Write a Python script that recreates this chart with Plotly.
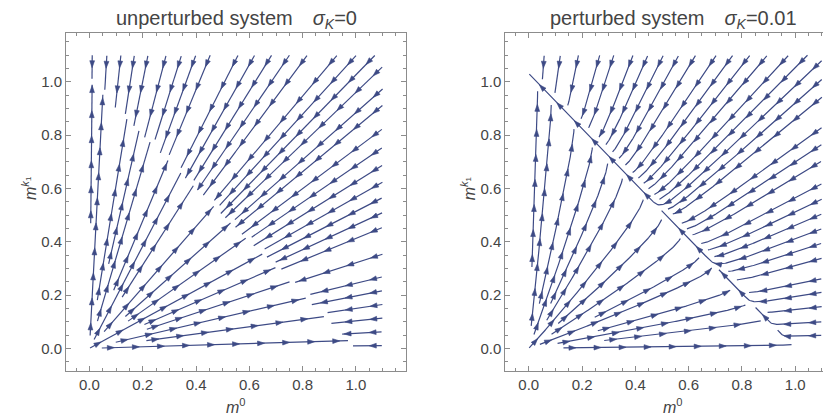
import numpy as np
import plotly.graph_objects as go

# ---------------- data ----------------
m0_range = [0.0, 1.1]          # streamline domain, horizontal (m^0)
mk1_range = [0.0, 1.1]         # streamline domain, vertical (m^k1)
K_unperturbed = [1.0, 1.0]     # carrying capacities (m^0, m^k1), sigma_K = 0
K_perturbed = [1.0, 1.03]      # carrying capacities (m^0, m^k1), sigma_K = 0.01
panel_names = ["unperturbed system", "perturbed system"]
sigma_values = ["0", "0.01"]
tick_values = [0.0, 0.2, 0.4, 0.6, 0.8, 1.0]
tick_labels = ["0.0", "0.2", "0.4", "0.6", "0.8", "1.0"]
minor_tick_values = [-0.05, 0.05, 0.1, 0.15, 0.25, 0.3, 0.35, 0.45, 0.5, 0.55,
                     0.65, 0.7, 0.75, 0.85, 0.9, 0.95, 1.05, 1.1, 1.15]
# first streamlines of each panel (the rest are placed evenly around them)
first_seeds_unperturbed = [(0.55, 0.30)]
first_seeds_perturbed = [(0.515, 0.545), (0.74, 0.32), (0.865, 0.175), (0.95, 0.09)]


def velocity(x, y, K):
    s = x + y
    return x * (K[0] - s), y * (K[1] - s)


# ---------------- evenly spaced streamlines ----------------
def build_streamlines(K, seeds, dsep=0.05, dtest=0.02, h=0.004, minlen=0.012):
    x0, x1 = m0_range
    y0, y1 = mk1_range
    cell = dtest
    grid = {}

    def min_dist(p, radius):
        r = int(np.ceil(radius / cell))
        i = int(p[0] // cell)
        j = int(p[1] // cell)
        best = 1e9
        for di in range(-r, r + 1):
            for dj in range(-r, r + 1):
                lst = grid.get((i + di, j + dj))
                if not lst:
                    continue
                for (qx, qy) in lst:
                    d = (qx - p[0]) ** 2 + (qy - p[1]) ** 2
                    if d < best:
                        best = d
        return best ** 0.5

    def add(pts):
        for k, (px, py) in enumerate(pts):
            if k % 2 == 0 or k == len(pts) - 1:
                grid.setdefault((int(px // cell), int(py // cell)), []).append((px, py))

    def direction(p, sgn):
        u, v = velocity(p[0], p[1], K)
        n = (u * u + v * v) ** 0.5
        if n < 1e-10:
            return None
        return (sgn * u / n, sgn * v / n)

    def inside(q):
        return x0 <= q[0] <= x1 and y0 <= q[1] <= y1

    def trace(seed, sgn):
        pts = []
        p = seed
        dprev = direction(p, sgn)
        if dprev is None:
            return pts
        for _ in range(1500):
            d1 = direction(p, sgn)
            if d1 is None:
                break
            mid = (p[0] + 0.5 * h * d1[0], p[1] + 0.5 * h * d1[1])
            d2 = direction(mid, sgn)
            if d2 is None:
                break
            if d2[0] * d1[0] + d2[1] * d1[1] < 0.2:
                break
            if d2[0] * dprev[0] + d2[1] * dprev[1] < 0.2:
                break
            q = (p[0] + h * d2[0], p[1] + h * d2[1])
            if not inside(q):
                break
            if min_dist(q, dtest) < dtest:
                break
            pts.append(q)
            p = q
            dprev = d2
        return pts

    lines = []

    def try_line(seed):
        if not inside(seed):
            return
        if min_dist(seed, dsep) < dsep:
            return
        b = trace(seed, -1)
        f = trace(seed, 1)
        pts = b[::-1] + [seed] + f
        P = np.array(pts)
        if len(P) < 2:
            return
        L = np.sum(np.hypot(np.diff(P[:, 0]), np.diff(P[:, 1])))
        if L < minlen:
            return
        add(pts)
        lines.append(P)

    idx = [0]
    every = max(1, int(0.5 * dsep / h))

    def expand():
        while idx[0] < len(lines):
            P = lines[idx[0]]
            idx[0] += 1
            for k in range(0, len(P), every):
                a = P[max(k - 1, 0)]
                c = P[min(k + 1, len(P) - 1)]
                dx, dy = c[0] - a[0], c[1] - a[1]
                n = np.hypot(dx, dy)
                if n == 0:
                    continue
                nx, ny = -dy / n, dx / n
                for s in (1, -1):
                    try_line((P[k][0] + s * dsep * nx, P[k][1] + s * dsep * ny))

    for sd in seeds:
        try_line(sd)
    expand()
    for gx in np.arange(0.01, 1.1, dsep / 2):
        for gy in np.arange(0.01, 1.1, dsep / 2):
            try_line((gx, gy))
            expand()
    return lines


PX = 266.5  # pixels per data unit (both axes)


def arrowheads(lines, spacing=0.094, length=7.0 / PX, half_width=2.4 / PX):
    xs, ys = [], []
    for P in lines:
        seg = np.hypot(np.diff(P[:, 0]), np.diff(P[:, 1]))
        s = np.concatenate([[0.0], np.cumsum(seg)])
        L = s[-1]
        if L < 0.02:
            continue
        pos = []
        t = spacing * 0.5
        while t <= L:
            pos.append(t)
            t += spacing
        if not pos:
            pos = [L * 0.6]
        for t in pos:
            tb = max(t - 0.01, 0.0)
            tx, ty = np.interp(t, s, P[:, 0]), np.interp(t, s, P[:, 1])
            bx, by = np.interp(tb, s, P[:, 0]), np.interp(tb, s, P[:, 1])
            dx, dy = tx - bx, ty - by
            n = np.hypot(dx, dy)
            if n == 0:
                continue
            dx, dy = dx / n, dy / n
            nx, ny = -dy, dx
            cx, cy = tx - length * dx, ty - length * dy
            xs += [tx, cx + half_width * nx, cx - half_width * nx, tx, None]
            ys += [ty, cy + half_width * ny, cy - half_width * ny, ty, None]
    return xs, ys


def polyline(lines):
    xs, ys = [], []
    for P in lines:
        xs += list(P[:, 0]) + [None]
        ys += list(P[:, 1]) + [None]
    return xs, ys


stream_col = "#3d4a85"
frame_col = "#8c8c8c"
text_col = "#444444"
font_family = "Liberation Sans, Arial, sans-serif"

fig = go.Figure()
for i, (K, seeds) in enumerate([(K_unperturbed, first_seeds_unperturbed),
                                (K_perturbed, first_seeds_perturbed)]):
    lines = build_streamlines(K, seeds)
    lx, ly = polyline(lines)
    ax, ay = arrowheads(lines)
    xa = "x" if i == 0 else "x2"
    ya = "y" if i == 0 else "y2"
    fig.add_trace(go.Scatter(x=lx, y=ly, mode="lines", xaxis=xa, yaxis=ya,
                             line=dict(color=stream_col, width=1.2),
                             hoverinfo="skip", showlegend=False))
    fig.add_trace(go.Scatter(x=ax, y=ay, mode="lines", xaxis=xa, yaxis=ya,
                             fill="toself", fillcolor=stream_col,
                             line=dict(color=stream_col, width=0.6),
                             hoverinfo="skip", showlegend=False))

W, H = 831, 417
left_frame = [58.0, 398.0]
right_frame_left = 497.3
top_px, bottom_px = 25.0, 363.0
xr_left = [-0.088, -0.088 + (left_frame[1] - left_frame[0]) / PX]
xr_right = [-0.088, -0.088 + (W - right_frame_left) / PX]
yr = [-0.085, -0.085 + (bottom_px - top_px) / PX]


def axis(dom, rng, mirror="allticks"):
    return dict(domain=dom, range=rng, tickmode="array", tickvals=tick_values,
                ticktext=tick_labels, ticks="inside", ticklen=5, tickwidth=1,
                tickcolor=frame_col, showline=True, linecolor=frame_col, linewidth=1,
                mirror=mirror, showgrid=False, zeroline=False,
                minor=dict(tickmode="array", tickvals=minor_tick_values, ticks="inside",
                           ticklen=3, tickwidth=1, tickcolor=frame_col, showgrid=False),
                tickfont=dict(size=15, color=text_col, family=font_family),
                fixedrange=True)


ydom = [1 - bottom_px / H, 1 - top_px / H]
fig.update_layout(
    width=W, height=H, margin=dict(l=0, r=0, t=0, b=0),
    paper_bgcolor="white", plot_bgcolor="white",
    font=dict(family=font_family, color=text_col),
    xaxis=dict(axis([left_frame[0] / W, left_frame[1] / W], xr_left), anchor="y"),
    yaxis=dict(axis(ydom, yr), anchor="x"),
    xaxis2=dict(axis([right_frame_left / W, 1.0], xr_right), anchor="y2"),
    yaxis2=dict(axis(ydom, yr, mirror=False), anchor="x2"),
)

centers = [(left_frame[0] + left_frame[1]) / 2, right_frame_left + (left_frame[1] - left_frame[0]) / 2 - 2]
ylab_x = [21.0, 21.0 + (right_frame_left - left_frame[0])]
for i in range(2):
    fig.add_annotation(x=centers[i] / W, y=1 - 11.5 / H, xref="paper", yref="paper",
                       text=panel_names[i] + "\u2003<i>\u03c3</i><sub><i>K</i></sub>=" + sigma_values[i],
                       showarrow=False, xanchor="center", yanchor="middle",
                       font=dict(size=20, color=text_col, family=font_family))
    fig.add_annotation(x=centers[i] / W, y=1 - 398 / H, xref="paper", yref="paper",
                       text="<i>m</i><sup>0</sup>", showarrow=False,
                       xanchor="center", yanchor="middle",
                       font=dict(size=16, color=text_col, family=font_family))
    fig.add_annotation(x=ylab_x[i] / W, y=1 - 181 / H, xref="paper", yref="paper",
                       text="<i>m</i><sup><i>k</i><sub>1</sub></sup>", showarrow=False,
                       textangle=-90, xanchor="center", yanchor="middle",
                       font=dict(size=16, color=text_col, family=font_family))

fig.write_html("out.html")
